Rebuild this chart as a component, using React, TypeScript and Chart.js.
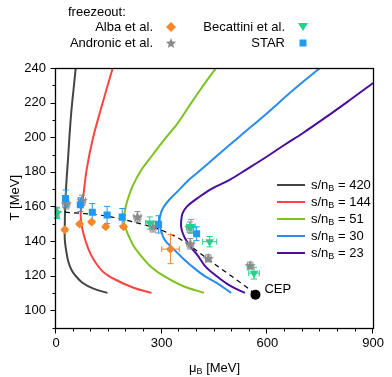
import { useEffect, useRef } from "react";
import { Chart, registerables } from "chart.js";
Chart.register(...registerables);

const W = 392;
const H = 377;
const FONT = '"Liberation Sans", Arial, Helvetica, sans-serif';

// ---- axis ticks ----
const xTickValues = [0, 300, 600, 900];
const yTickValues = [100, 120, 140, 160, 180, 200, 220, 240];
const xMinorStep = 50;
const yMinorStep = 10;

// ---- isentropes (s/nB), muB [MeV] vs T [MeV] ----
const isoLabels = ["420", "144", "51", "30", "23"];
const isoColors = ["#444444", "#FF4242", "#7CC21C", "#2A8BEB", "#4A0D9C"];
const iso420Mu = [146, 108, 76, 55, 43.7, 35, 30, 25, 25, 26, 30, 34, 38, 44, 50, 56];
const iso420T = [110, 112.3, 115.7, 120, 123.4, 128, 133, 140.8, 150, 160, 175.5, 187, 200, 216, 228, 240];
const iso144Mu = [271, 220, 169, 135, 113, 97, 85.5, 77, 72, 70, 72, 76, 87, 104, 127, 161];
const iso144T = [110, 113, 117.6, 122, 127.3, 133, 139, 145, 150, 155, 160, 164, 181.3, 198.7, 216, 240];
const iso51Mu = [420, 360, 308, 270, 243, 222, 211, 200, 194, 193, 196, 202, 218, 243, 275, 308, 345, 378, 410, 457];
const iso51T = [110, 114, 119.5, 125, 131, 136.5, 140.8, 146, 150, 154, 158, 163, 172, 181.3, 190, 198.7, 208, 218, 227.6, 240.8];
const iso30Mu = [497, 457, 420, 385, 355, 330, 308, 298, 294, 296, 305, 322, 345, 378, 401, 461, 522, 594, 670, 749];
const iso30T = [110, 115.7, 120, 125.5, 131, 136, 140.8, 146, 150.5, 155, 159.5, 164, 168.7, 175.5, 179.4, 190, 200.6, 213, 226.7, 240];
const iso23Mu = [536, 495, 457, 425, 401, 380, 365, 356, 355, 359, 372, 400, 440, 494, 540, 600, 650, 700, 760, 830, 900];
const iso23T = [110, 114, 119.5, 125, 132, 137, 142, 147, 151, 156, 160, 164.5, 170, 175.5, 181.3, 189, 195.8, 202.3, 210.7, 220.9, 231.3];

// ---- freeze-out data ----
const albaMu = [25, 67, 101, 141, 192, 325];
const albaT = [146.5, 149.8, 151, 148.2, 148.2, 135.3];
const albaMuErr = [0, 0, 0, 0, 0, 25];
const albaTErr = [1, 1, 1, 1, 1, 8.4];

const andronicMu = [2, 29, 74, 231, 275, 380, 381, 432, 551];
const andronicT = [156.5, 161.5, 163.5, 154, 148.2, 148, 138.4, 130, 125.8];
const andronicMuErr = [5, 10, 10, 10, 10, 10, 10, 8, 8];
const andronicTErr = [3, 3, 3, 3, 3, 3, 3, 2, 2];

const becattiniMu = [3, 266, 383, 436, 562];
const becattiniT = [156, 150.4, 148.4, 139.6, 121.4];
const becattiniMuErr = [0, 12, 12, 20, 15];
const becattiniTErr = [3, 3.5, 4, 3, 3.4];

const starMu = [27, 69, 103, 145, 188, 291, 399];
const starT = [164.5, 161, 156.6, 155, 153.8, 149.6, 144.2];
const starMuErr = [0, 0, 0, 0, 0, 0, 0];
const starTErr = [5, 4, 5, 5, 5, 5, 4];

const crossMu = [0, 100, 150, 200, 290, 355, 450, 545, 566];
const crossT = [157, 155.5, 154.2, 152, 147, 140.7, 126.7, 112.7, 109];

const cepMu = [566];
const cepT = [109];

const COL_ALBA = "#F5862A";
const COL_ANDRONIC = "#8A8A8A";
const COL_BECATTINI = "#22D18C";
const COL_STAR = "#1E9BF0";

const zip = (xs: number[], ys: number[]) => xs.map((x, i) => ({ x, y: ys[i] }));

function starPath(ctx: CanvasRenderingContext2D, x: number, y: number, R: number, r: number) {
  ctx.beginPath();
  for (let i = 0; i < 10; i++) {
    const rad = i % 2 === 0 ? R : r;
    const a = -Math.PI / 2 + (i * Math.PI) / 5;
    const px = x + rad * Math.cos(a);
    const py = y + rad * Math.sin(a);
    if (i === 0) ctx.moveTo(px, py);
    else ctx.lineTo(px, py);
  }
  ctx.closePath();
}

function makeStarImage(color: string) {
  const c = document.createElement("canvas");
  c.width = 13;
  c.height = 13;
  const ctx = c.getContext("2d")!;
  starPath(ctx, 6.5, 7, 6, 2.6);
  ctx.fillStyle = color;
  ctx.fill();
  return c;
}

function drawSubText(
  ctx: CanvasRenderingContext2D,
  parts: [string, boolean][],
  x: number,
  y: number,
  align: "left" | "center"
) {
  const main = `13px ${FONT}`;
  const sub = `9px ${FONT}`;
  ctx.textBaseline = "middle";
  ctx.textAlign = "left";
  const widths = parts.map(([t, s]) => {
    ctx.font = s ? sub : main;
    return ctx.measureText(t).width;
  });
  const total = widths.reduce((a, b) => a + b, 0);
  let cx = align === "center" ? x - total / 2 : x;
  parts.forEach(([t, s], i) => {
    ctx.font = s ? sub : main;
    ctx.fillText(t, cx, s ? y + 4 : y);
    cx += widths[i];
  });
}

const errorBarPlugin = {
  id: "errorBars",
  beforeDatasetDraw(chart: any, args: any) {
    const ds = chart.data.datasets[args.index];
    if (!ds.errX && !ds.errY) return;
    const ctx: CanvasRenderingContext2D = chart.ctx;
    const xs = chart.scales.x;
    const ys = chart.scales.y;
    ctx.save();
    ctx.strokeStyle = ds.errColor;
    ctx.lineWidth = 1;
    const cap = 3;
    ds.data.forEach((p: any, i: number) => {
      const px = xs.getPixelForValue(p.x);
      const py = ys.getPixelForValue(p.y);
      const ex = ds.errX ? ds.errX[i] : 0;
      const ey = ds.errY ? ds.errY[i] : 0;
      ctx.beginPath();
      if (ey > 0) {
        const y1 = ys.getPixelForValue(p.y + ey);
        const y2 = ys.getPixelForValue(p.y - ey);
        ctx.moveTo(px, y1);
        ctx.lineTo(px, y2);
        ctx.moveTo(px - cap, y1);
        ctx.lineTo(px + cap, y1);
        ctx.moveTo(px - cap, y2);
        ctx.lineTo(px + cap, y2);
      }
      if (ex > 0) {
        const x1 = xs.getPixelForValue(p.x - ex);
        const x2 = xs.getPixelForValue(p.x + ex);
        ctx.moveTo(x1, py);
        ctx.lineTo(x2, py);
        ctx.moveTo(x1, py - cap);
        ctx.lineTo(x1, py + cap);
        ctx.moveTo(x2, py - cap);
        ctx.lineTo(x2, py + cap);
      }
      ctx.stroke();
    });
    ctx.restore();
  },
};

const decorPlugin = {
  id: "decor",
  afterDraw(chart: any) {
    const ctx: CanvasRenderingContext2D = chart.ctx;
    const { left, right, top, bottom } = chart.chartArea;
    const xs = chart.scales.x;
    const ys = chart.scales.y;
    ctx.save();
    // frame
    ctx.strokeStyle = "#000";
    ctx.lineWidth = 1.3;
    const L = Math.round(left) - 0.5;
    const R = Math.round(right) + 0.5;
    const T = Math.round(top) + 0.5;
    const B = Math.round(bottom) + 0.5;
    ctx.strokeRect(L, T, R - L, B - T);
    // ticks
    ctx.lineWidth = 1;
    ctx.beginPath();
    for (let v = xs.min; v <= xs.max + 1e-6; v += xMinorStep) {
      const px = Math.round(xs.getPixelForValue(v)) - 0.5;
      const len = xTickValues.includes(v) ? 5 : 3;
      ctx.moveTo(px, B);
      ctx.lineTo(px, B + len);
    }
    for (let v = ys.min; v <= ys.max + 1e-6; v += yMinorStep) {
      const py = Math.round(ys.getPixelForValue(v)) + 0.5;
      const len = yTickValues.includes(v) ? 5 : 3;
      ctx.moveTo(L, py);
      ctx.lineTo(L - len, py);
    }
    ctx.stroke();

    ctx.fillStyle = "#000";
    // axis titles
    drawSubText(ctx, [["μ", false], ["B", true], [" [MeV]", false]], (left + right) / 2, 368, "center");
    ctx.save();
    ctx.translate(15, (top + bottom) / 2);
    ctx.rotate(-Math.PI / 2);
    ctx.font = `13px ${FONT}`;
    ctx.textAlign = "center";
    ctx.textBaseline = "middle";
    ctx.fillText("T [MeV]", 0, 0);
    ctx.restore();

    // CEP label
    const cx = xs.getPixelForValue(cepMu[0]);
    const cy = ys.getPixelForValue(cepT[0]);
    ctx.font = `13px ${FONT}`;
    ctx.textAlign = "left";
    ctx.textBaseline = "middle";
    ctx.fillText("CEP", cx + 9, cy - 5);

    // isentrope legend
    const lx0 = 277;
    const lx1 = 305;
    const rows = [185, 202, 219, 236, 253];
    isoLabels.forEach((lab, i) => {
      ctx.strokeStyle = isoColors[i];
      ctx.lineWidth = 2;
      ctx.beginPath();
      ctx.moveTo(lx0, rows[i]);
      ctx.lineTo(lx1, rows[i]);
      ctx.stroke();
      ctx.fillStyle = "#000";
      drawSubText(ctx, [["s/n", false], ["B", true], [" = " + lab, false]], 311, rows[i], "left");
    });

    // freezeout legend
    ctx.fillStyle = "#000";
    ctx.font = `13px ${FONT}`;
    ctx.textBaseline = "middle";
    ctx.textAlign = "left";
    ctx.fillText("freezeout:", 68, 12);
    ctx.textAlign = "right";
    ctx.fillText("Alba et al.", 153, 27);
    ctx.fillText("Andronic et al.", 153, 43);
    ctx.fillText("Becattini et al.", 285, 27);
    ctx.fillText("STAR", 285, 43);
    // markers
    // diamond
    ctx.fillStyle = COL_ALBA;
    ctx.beginPath();
    ctx.moveTo(171, 22);
    ctx.lineTo(176, 27);
    ctx.lineTo(171, 32);
    ctx.lineTo(166, 27);
    ctx.closePath();
    ctx.fill();
    // star
    ctx.fillStyle = COL_ANDRONIC;
    starPath(ctx, 171, 43.5, 5.5, 2.4);
    ctx.fill();
    // down triangle
    ctx.fillStyle = COL_BECATTINI;
    ctx.beginPath();
    ctx.moveTo(298, 23);
    ctx.lineTo(308, 23);
    ctx.lineTo(303, 31);
    ctx.closePath();
    ctx.fill();
    // square
    ctx.fillStyle = COL_STAR;
    ctx.fillRect(299.5, 39.5, 7, 7);
    ctx.restore();
  },
};

export default function App() {
  const ref = useRef<HTMLCanvasElement | null>(null);
  useEffect(() => {
    if (!ref.current) return;
    const isoSets = [
      [iso420Mu, iso420T],
      [iso144Mu, iso144T],
      [iso51Mu, iso51T],
      [iso30Mu, iso30T],
      [iso23Mu, iso23T],
    ].map(([m, t], i) => ({
      label: "s/nB = " + isoLabels[i],
      data: zip(m, t),
      showLine: true,
      borderColor: isoColors[i],
      backgroundColor: isoColors[i],
      borderWidth: 2,
      pointRadius: 0,
      tension: 0.35,
      order: 10 + i,
    }));
    const starImg = makeStarImage(COL_ANDRONIC);
    const chart = new Chart(ref.current, {
      type: "scatter",
      data: {
        datasets: [
          {
            label: "CEP",
            data: zip(cepMu, cepT),
            pointStyle: "circle",
            pointRadius: 5,
            backgroundColor: "#000",
            borderColor: "#000",
            borderWidth: 0,
            order: 0,
          },
          {
            label: "Alba et al.",
            data: zip(albaMu, albaT),
            pointStyle: "rectRot",
            pointRadius: 4.5,
            backgroundColor: COL_ALBA,
            borderWidth: 0,
            errX: albaMuErr,
            errY: albaTErr,
            errColor: COL_ALBA,
            order: 1,
          } as any,
          {
            label: "STAR",
            data: zip(starMu, starT),
            pointStyle: "rect",
            pointRadius: 5,
            backgroundColor: COL_STAR,
            borderWidth: 0,
            errX: starMuErr,
            errY: starTErr,
            errColor: COL_STAR,
            order: 2,
          } as any,
          {
            label: "Becattini et al.",
            data: zip(becattiniMu, becattiniT),
            pointStyle: "triangle",
            rotation: 180,
            pointRadius: 5,
            backgroundColor: COL_BECATTINI,
            borderWidth: 0,
            errX: becattiniMuErr,
            errY: becattiniTErr,
            errColor: COL_BECATTINI,
            order: 3,
          } as any,
          {
            label: "Andronic et al.",
            data: zip(andronicMu, andronicT),
            pointStyle: starImg,
            pointRadius: 5,
            backgroundColor: COL_ANDRONIC,
            borderWidth: 0,
            errX: andronicMuErr,
            errY: andronicTErr,
            errColor: COL_ANDRONIC,
            order: 4,
          } as any,
          {
            label: "crossover",
            data: zip(crossMu, crossT),
            showLine: true,
            borderColor: "#000",
            borderWidth: 1.2,
            borderDash: [5, 4],
            pointRadius: 0,
            tension: 0.3,
            order: 5,
          },
          ...isoSets,
        ],
      },
      options: {
        responsive: false,
        animation: false,
        layout: { padding: { top: 68, right: 13, left: 0, bottom: 0 } },
        plugins: { legend: { display: false }, tooltip: { enabled: false } },
        scales: {
          x: {
            type: "linear",
            min: 0,
            max: 900,
            afterBuildTicks: (s: any) => {
              s.ticks = xTickValues.map((v) => ({ value: v }));
            },
            afterFit: (s: any) => {
              s.height = 49.5;
            },
            grid: { display: false, drawTicks: false },
            border: { display: false },
            ticks: {
              font: { family: FONT, size: 13 },
              color: "#000",
              padding: 8,
              maxRotation: 0,
            },
          },
          y: {
            type: "linear",
            min: 90,
            max: 240,
            afterBuildTicks: (s: any) => {
              s.ticks = yTickValues.map((v) => ({ value: v }));
            },
            afterFit: (s: any) => {
              s.width = 56;
            },
            grid: { display: false, drawTicks: false },
            border: { display: false },
            ticks: {
              font: { family: FONT, size: 13 },
              color: "#000",
              padding: 10,
            },
          },
        },
      },
      plugins: [errorBarPlugin, decorPlugin],
    } as any);
    return () => chart.destroy();
  }, []);
  return (
    <div style={{ position: "fixed", left: 0, top: 0, width: W, height: H, background: "#fff" }}>
      <canvas ref={ref} width={W} height={H} style={{ display: "block", width: W, height: H }} />
    </div>
  );
}
